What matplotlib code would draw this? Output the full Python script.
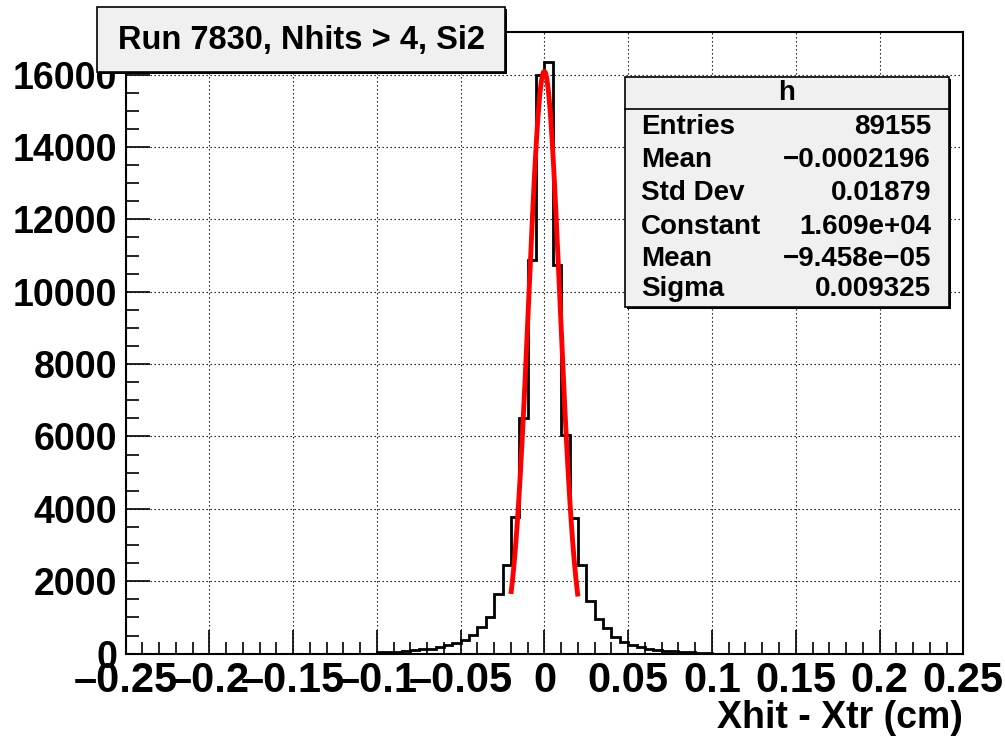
import numpy as np
import matplotlib
matplotlib.use('Agg')
import matplotlib.pyplot as plt
from matplotlib.patches import Rectangle
from matplotlib.ticker import MultipleLocator

plt.rcParams['font.family'] = ['Liberation Sans', 'DejaVu Sans']

# histogram h: 100 bins from -0.25 to 0.25 (cm)
x_lo, x_hi, n_bins = -0.25, 0.25, 100
counts = [
    0, 0, 0, 0, 0, 0, 0, 0, 0, 0,
    0, 0, 0, 0, 0, 0, 0, 0, 0, 0,
    0, 0, 0, 0, 0, 0, 0, 0, 0, 0,
    40, 45, 55, 70, 90, 120, 140, 190, 240, 290,
    380, 520, 740, 1000, 1650, 2440, 3780, 6500, 10870, 15980,
    16350, 10730, 6040, 3745, 2440, 1460, 950, 700, 470, 330,
    240, 180, 140, 110, 80, 60, 45, 35, 20, 10,
    0, 0, 0, 0, 0, 0, 0, 0, 0, 0,
    0, 0, 0, 0, 0, 0, 0, 0, 0, 0,
    0, 0, 0, 0, 0, 0, 0, 0, 0, 0,
]

# gaus fit result
fit_const = 1.609e4
fit_mean = -9.458e-05
fit_sigma = 0.009325
fit_range = (-0.02, 0.02)

title = 'Run 7830, Nhits > 4, Si2'
xlabel = 'Xhit - Xtr (cm)'
stat_name = 'h'
stat_labels = ['Entries', 'Mean', 'Std Dev', 'Constant', 'Mean', 'Sigma']
stat_values = ['89155', '\u22120.0002196', '0.01879', '1.609e+04',
               '\u22129.458e\u221205', '0.009325']

W, H = 1005, 747
fig = plt.figure(figsize=(W / 100, H / 100), dpi=100)
ax = fig.add_axes([125.6 / W, 1 - 653.6 / H, (963.3 - 125.6) / W, (653.6 - 32.3) / H])


def fx(px):
    return px / W


def fy(py):
    return 1 - py / H


edges = np.linspace(x_lo, x_hi, n_bins + 1)
ax.stairs(counts, edges, color='black', lw=2.0, zorder=3)

xf = np.linspace(fit_range[0], fit_range[1], 300)
yf = fit_const * np.exp(-0.5 * ((xf - fit_mean) / fit_sigma) ** 2)
ax.plot(xf, yf, color='red', lw=3.5, zorder=4, solid_capstyle='butt')

ax.set_xlim(x_lo, x_hi)
ax.set_ylim(0, 1.05 * max(counts))

ax.xaxis.set_major_locator(MultipleLocator(0.05))
ax.xaxis.set_minor_locator(MultipleLocator(0.01))
ax.yaxis.set_major_locator(MultipleLocator(2000))
ax.yaxis.set_minor_locator(MultipleLocator(500))
ax.xaxis.set_major_formatter(lambda v, p: '0' if abs(v) < 1e-9 else ('%g' % v).replace('-', '\u2013'))

ax.tick_params(which='major', direction='in', length=17, width=1.2)
ax.tick_params(which='minor', direction='in', length=9, width=1.2)
ax.tick_params(axis='x', which='major', labelsize=30, pad=5)
ax.tick_params(axis='y', which='major', labelsize=27, pad=6)
for lab in ax.get_xticklabels() + ax.get_yticklabels():
    lab.set_fontweight('bold')
for sp in ax.spines.values():
    sp.set_linewidth(1.5)

ax.grid(True, which='major', color='black', lw=0.8, linestyle=(0, (1.2, 2.4)))
ax.set_axisbelow(True)

fig.text(fx(963), fy(718), xlabel, fontsize=27, fontweight='bold',
         ha='right', va='center')

# title box
fig.patches.append(Rectangle((fx(99), fy(74)), (505 - 97) / W, (72 - 7) / H,
                             transform=fig.transFigure, facecolor='black',
                             edgecolor='none', zorder=9))
fig.patches.append(Rectangle((fx(97), fy(72)), (505 - 97) / W, (72 - 7) / H,
                             transform=fig.transFigure, facecolor='#f0f0f0',
                             edgecolor='black', lw=1.2, zorder=10))
fig.text(fx(301), fy(41), title, fontsize=23.5, fontweight='bold',
         ha='center', va='center', zorder=11)

# stats box
fig.patches.append(Rectangle((fx(627), fy(309)), (949 - 625) / W, (307 - 77) / H,
                             transform=fig.transFigure, facecolor='black',
                             edgecolor='none', zorder=9))
fig.patches.append(Rectangle((fx(625), fy(307)), (949 - 625) / W, (307 - 77) / H,
                             transform=fig.transFigure, facecolor='#f0f0f0',
                             edgecolor='black', lw=1.2, zorder=10))
fig.add_artist(plt.Line2D([fx(625), fx(949)], [fy(109), fy(109)],
                          transform=fig.transFigure, color='black', lw=1.2, zorder=11))
fig.text(fx(787), fy(93), stat_name, fontsize=20, fontweight='bold',
         ha='center', va='center', zorder=11)
row_y = [127, 160, 193, 226.5, 259.5, 289]
for lab, val, yy in zip(stat_labels, stat_values, row_y):
    fig.text(fx(641), fy(yy), lab, fontsize=20, fontweight='bold',
             ha='left', va='center', zorder=11)
    fig.text(fx(931), fy(yy), val, fontsize=20, fontweight='bold',
             ha='right', va='center', zorder=11)

fig.savefig('out.png', dpi=100)
